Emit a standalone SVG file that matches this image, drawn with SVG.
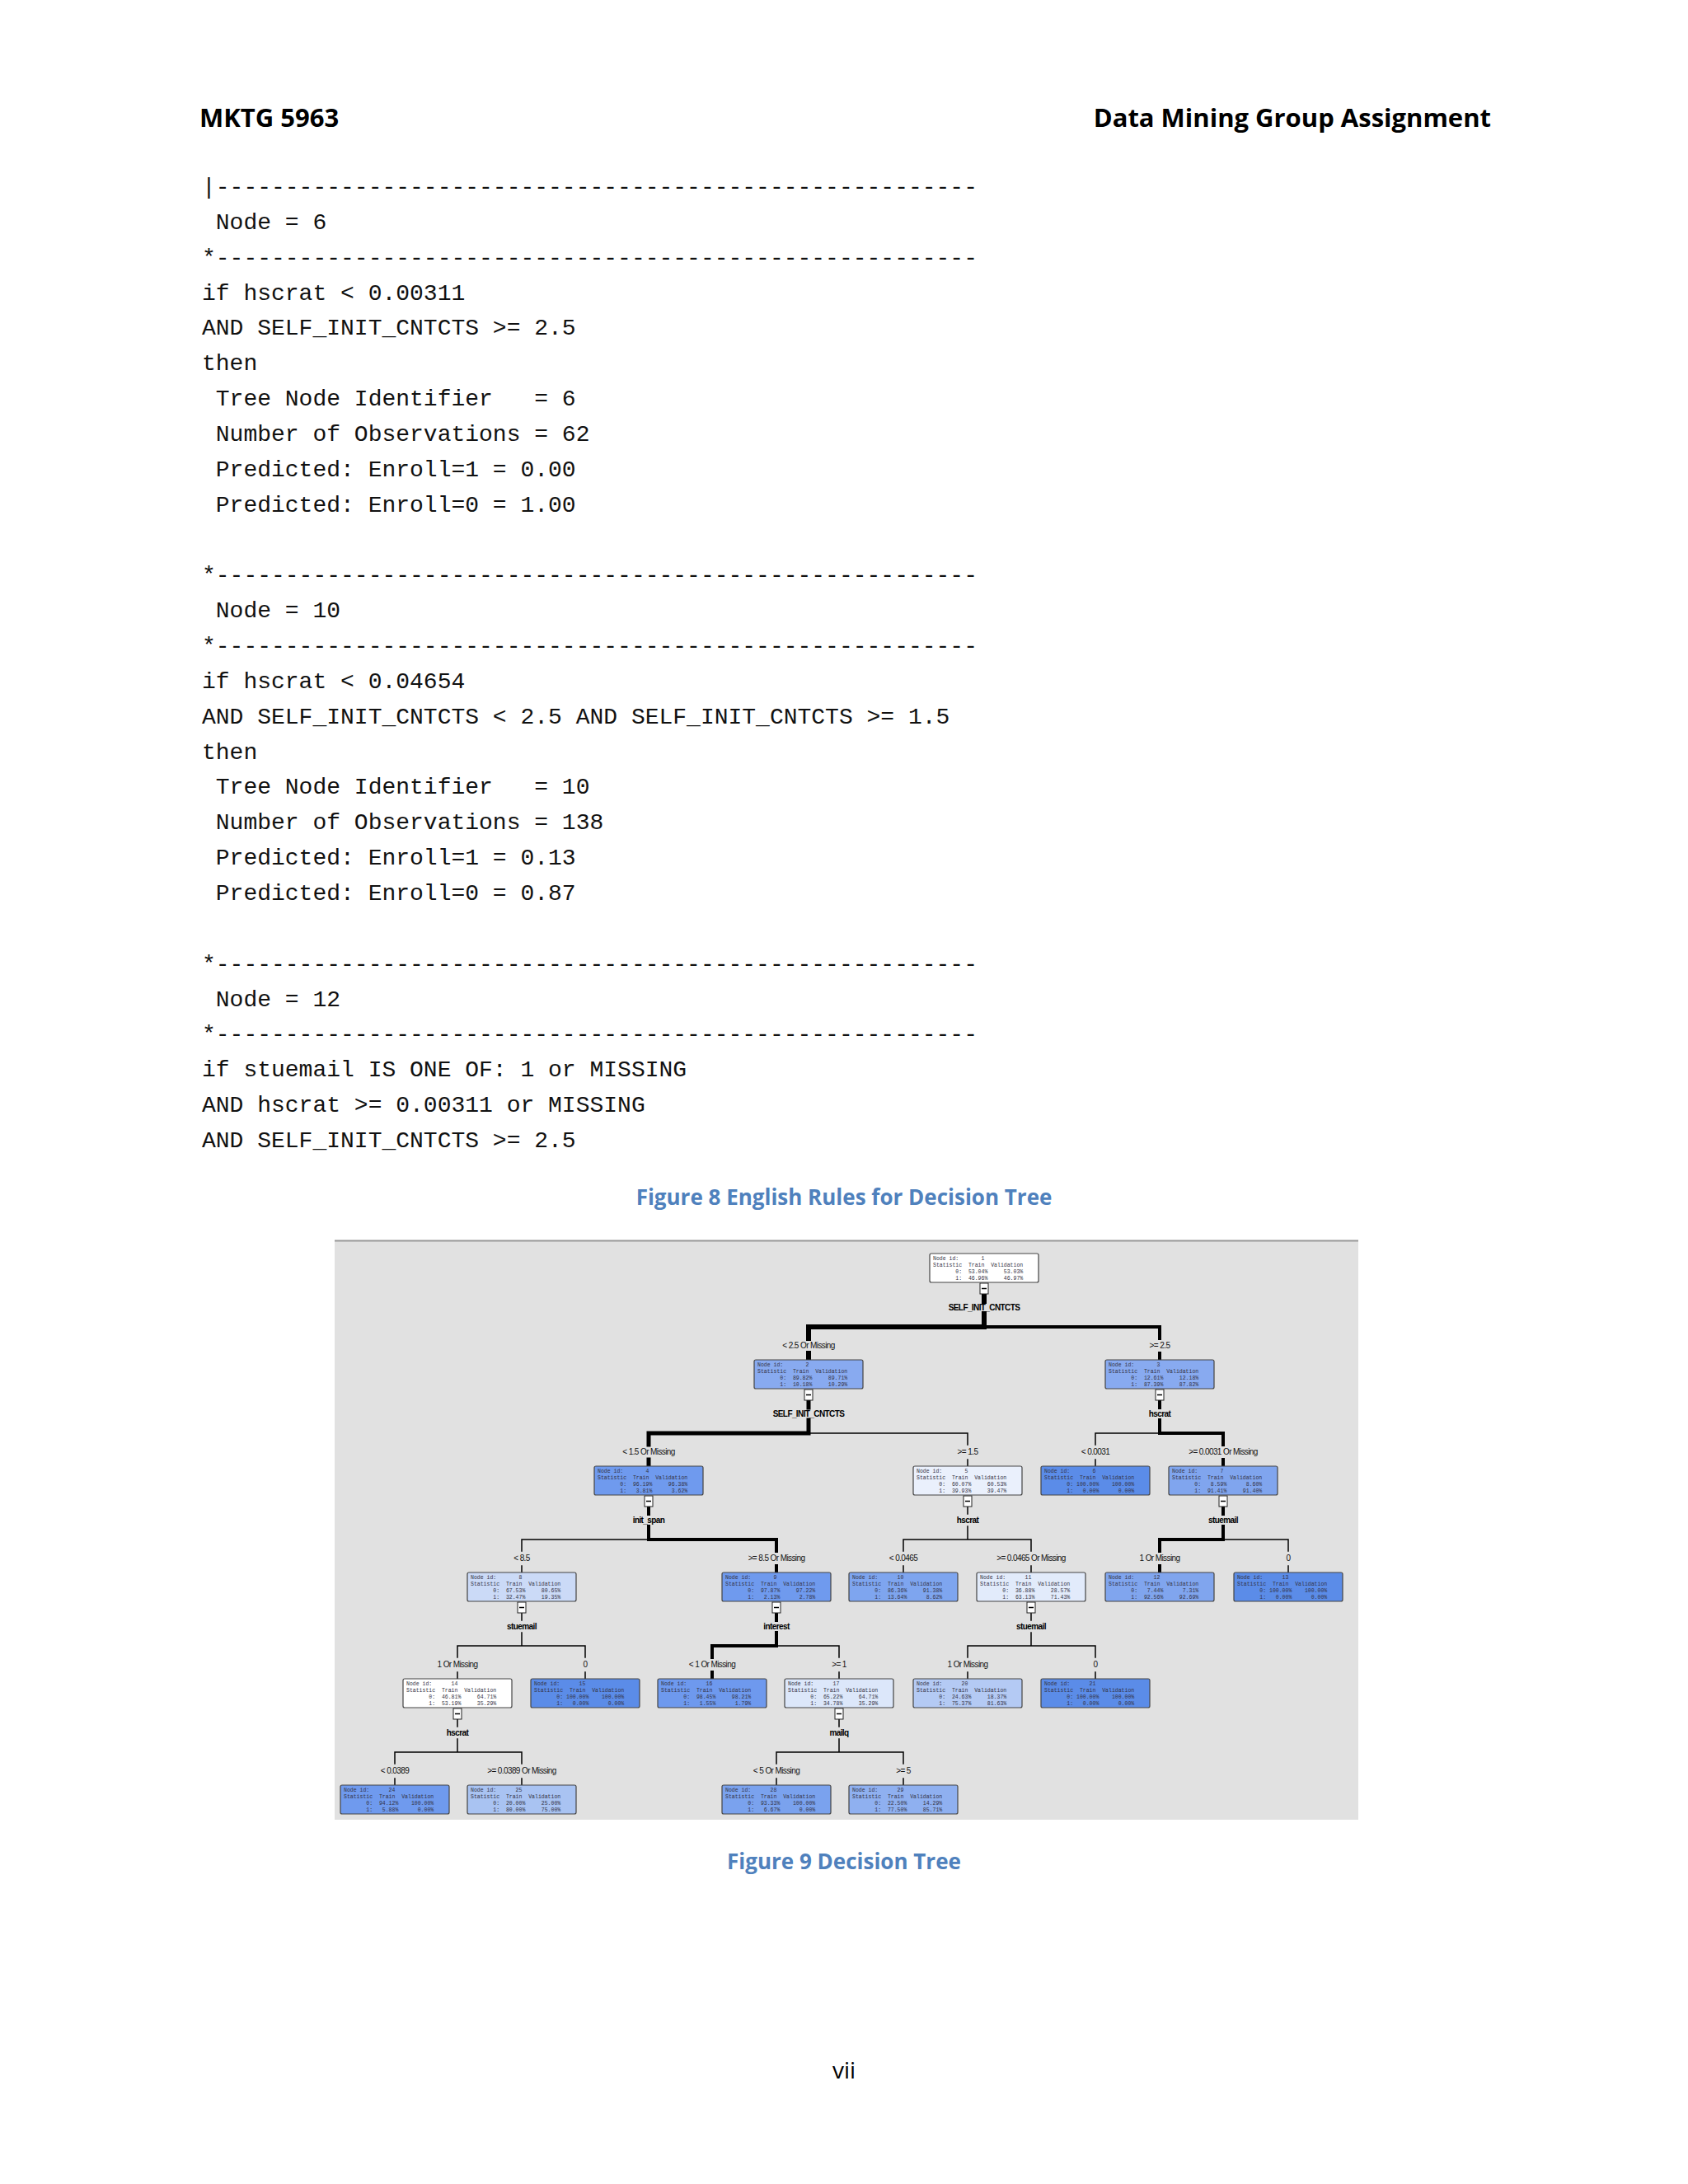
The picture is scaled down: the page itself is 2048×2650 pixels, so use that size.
<svg xmlns="http://www.w3.org/2000/svg" width="2048" height="2650" viewBox="0 0 2048 2650">
<defs>
<clipPath id="rc"><rect x="200" y="190" width="990" height="1230"/></clipPath>
<style>
.h{font-family:"Open Sans","Liberation Sans",sans-serif;font-weight:bold;font-size:31px;fill:#000}
.m{font-family:"Liberation Mono",monospace;font-size:28px;fill:#111;white-space:pre}
.cap{font-family:"Open Sans","Liberation Sans",sans-serif;font-weight:bold;font-size:26px;fill:#4f81bd;text-anchor:middle}
.pg{font-family:"Open Sans","Liberation Sans",sans-serif;font-size:28px;fill:#000;text-anchor:middle}
.nb{stroke:#444;stroke-width:1.2}
.nt{font-family:"Liberation Mono",monospace;font-size:6.5px;fill:#334;white-space:pre}
.lb{font-family:"Liberation Sans",sans-serif;font-size:10px;letter-spacing:-0.6px;fill:#111;text-anchor:middle}
.vr{font-family:"Liberation Sans",sans-serif;font-size:10px;font-weight:bold;letter-spacing:-0.6px;fill:#000;text-anchor:middle}
.e{fill:none;stroke:#000;stroke-linecap:square}
.tg{fill:#fff;stroke:#222;stroke-width:1}
</style>
</defs>
<rect width="2048" height="2650" fill="#fff"/>
<text class="h" x="242" y="154">MKTG 5963</text>
<text class="h" x="1809" y="154" text-anchor="end">Data Mining Group Assignment</text>
<g id="rules" clip-path="url(#rc)">
<text class="m" x="245" y="235">|-------------------------------------------------------</text>
<text class="m" x="245" y="278"> Node = 6</text>
<text class="m" x="245" y="321">*-------------------------------------------------------</text>
<text class="m" x="245" y="364">if hscrat &lt; 0.00311</text>
<text class="m" x="245" y="406">AND SELF_INIT_CNTCTS &gt;= 2.5</text>
<text class="m" x="245" y="449">then</text>
<text class="m" x="245" y="492"> Tree Node Identifier   = 6</text>
<text class="m" x="245" y="535"> Number of Observations = 62</text>
<text class="m" x="245" y="578"> Predicted: Enroll=1 = 0.00</text>
<text class="m" x="245" y="621"> Predicted: Enroll=0 = 1.00</text>
<text class="m" x="245" y="706">*-------------------------------------------------------</text>
<text class="m" x="245" y="749"> Node = 10</text>
<text class="m" x="245" y="792">*-------------------------------------------------------</text>
<text class="m" x="245" y="835">if hscrat &lt; 0.04654</text>
<text class="m" x="245" y="878">AND SELF_INIT_CNTCTS &lt; 2.5 AND SELF_INIT_CNTCTS &gt;= 1.5</text>
<text class="m" x="245" y="921">then</text>
<text class="m" x="245" y="963"> Tree Node Identifier   = 10</text>
<text class="m" x="245" y="1006"> Number of Observations = 138</text>
<text class="m" x="245" y="1049"> Predicted: Enroll=1 = 0.13</text>
<text class="m" x="245" y="1092"> Predicted: Enroll=0 = 0.87</text>
<text class="m" x="245" y="1178">*-------------------------------------------------------</text>
<text class="m" x="245" y="1221"> Node = 12</text>
<text class="m" x="245" y="1263">*-------------------------------------------------------</text>
<text class="m" x="245" y="1306">if stuemail IS ONE OF: 1 or MISSING</text>
<text class="m" x="245" y="1349">AND hscrat &gt;= 0.00311 or MISSING</text>
<text class="m" x="245" y="1392">AND SELF_INIT_CNTCTS &gt;= 2.5</text>
</g>
<text class="cap" x="1024" y="1462">Figure 8 English Rules for Decision Tree</text>
<rect x="406" y="1505" width="1242" height="703" fill="#e1e1e1"/>
<line x1="406" y1="1505.5" x2="1648" y2="1505.5" stroke="#999" stroke-width="2"/>
<g id="connectors">
<!-- P1 -->
<path class="e" stroke-width="6" d="M1194,1570V1579M1194,1594V1610H981V1624M981,1642V1650"/>
<path class="e" stroke-width="4" d="M1194,1610H1407V1624M1407,1642V1650"/>
<!-- P2 -->
<path class="e" stroke-width="5" d="M981,1699V1708M981,1723V1739H787V1753M787,1771V1779"/>
<path class="e" stroke-width="1.5" d="M981,1739H1174V1753M1174,1771V1779"/>
<!-- P3 -->
<path class="e" stroke-width="4" d="M1407,1699V1708M1407,1723V1739H1484V1753M1484,1771V1779"/>
<path class="e" stroke-width="1.5" d="M1407,1739H1329V1753M1329,1771V1779"/>
<!-- P4 -->
<path class="e" stroke-width="4" d="M787,1828V1837M787,1852V1868H942V1882M942,1900V1908"/>
<path class="e" stroke-width="1.5" d="M787,1868H633V1882M633,1900V1908"/>
<!-- P5 -->
<path class="e" stroke-width="1.5" d="M1174,1828V1837M1174,1852V1868H1096V1882M1096,1900V1908M1174,1868H1251V1882M1251,1900V1908"/>
<!-- P7 -->
<path class="e" stroke-width="4" d="M1484,1828V1837M1484,1852V1868H1407V1882M1407,1900V1908"/>
<path class="e" stroke-width="1.5" d="M1484,1868H1563V1882M1563,1900V1908"/>
<!-- P8 -->
<path class="e" stroke-width="1.5" d="M633,1957V1966M633,1981V1997H555V2011M555,2029V2037M633,1997H710V2011M710,2029V2037"/>
<!-- P9 -->
<path class="e" stroke-width="4" d="M942,1957V1966M942,1981V1997H864V2011M864,2029V2037"/>
<path class="e" stroke-width="1.5" d="M942,1997H1018V2011M1018,2029V2037"/>
<!-- P11 -->
<path class="e" stroke-width="1.5" d="M1251,1957V1966M1251,1981V1997H1174V2011M1174,2029V2037M1251,1997H1329V2011M1329,2029V2037"/>
<!-- P14 -->
<path class="e" stroke-width="1.5" d="M555,2086V2095M555,2110V2126H479V2140M479,2158V2166M555,2126H633V2140M633,2158V2166"/>
<!-- P17 -->
<path class="e" stroke-width="1.5" d="M1018,2086V2095M1018,2110V2126H942V2140M942,2158V2166M1018,2126H1096V2140M1096,2158V2166"/>
<!-- toggles -->
<g>
<rect class="tg" x="1189" y="1557" width="10" height="13"/><line x1="1191" y1="1563.5" x2="1197" y2="1563.5" stroke="#000" stroke-width="1.5"/>
<rect class="tg" x="976" y="1686" width="10" height="13"/><line x1="978" y1="1692.5" x2="984" y2="1692.5" stroke="#000" stroke-width="1.5"/>
<rect class="tg" x="1402" y="1686" width="10" height="13"/><line x1="1404" y1="1692.5" x2="1410" y2="1692.5" stroke="#000" stroke-width="1.5"/>
<rect class="tg" x="782" y="1815" width="10" height="13"/><line x1="784" y1="1821.5" x2="790" y2="1821.5" stroke="#000" stroke-width="1.5"/>
<rect class="tg" x="1169" y="1815" width="10" height="13"/><line x1="1171" y1="1821.5" x2="1177" y2="1821.5" stroke="#000" stroke-width="1.5"/>
<rect class="tg" x="1479" y="1815" width="10" height="13"/><line x1="1481" y1="1821.5" x2="1487" y2="1821.5" stroke="#000" stroke-width="1.5"/>
<rect class="tg" x="628" y="1944" width="10" height="13"/><line x1="630" y1="1950.5" x2="636" y2="1950.5" stroke="#000" stroke-width="1.5"/>
<rect class="tg" x="937" y="1944" width="10" height="13"/><line x1="939" y1="1950.5" x2="945" y2="1950.5" stroke="#000" stroke-width="1.5"/>
<rect class="tg" x="1246" y="1944" width="10" height="13"/><line x1="1248" y1="1950.5" x2="1254" y2="1950.5" stroke="#000" stroke-width="1.5"/>
<rect class="tg" x="550" y="2073" width="10" height="13"/><line x1="552" y1="2079.5" x2="558" y2="2079.5" stroke="#000" stroke-width="1.5"/>
<rect class="tg" x="1013" y="2073" width="10" height="13"/><line x1="1015" y1="2079.5" x2="1021" y2="2079.5" stroke="#000" stroke-width="1.5"/>
</g>
<!-- split variables -->
<text class="vr" x="1194" y="1590">SELF_INIT_CNTCTS</text>
<text class="vr" x="981" y="1719">SELF_INIT_CNTCTS</text>
<text class="vr" x="1407" y="1719">hscrat</text>
<text class="vr" x="787" y="1848">init_span</text>
<text class="vr" x="1174" y="1848">hscrat</text>
<text class="vr" x="1484" y="1848">stuemail</text>
<text class="vr" x="633" y="1977">stuemail</text>
<text class="vr" x="942" y="1977">interest</text>
<text class="vr" x="1251" y="1977">stuemail</text>
<text class="vr" x="555" y="2106">hscrat</text>
<text class="vr" x="1018" y="2106">mailq</text>
<!-- branch labels -->
<text class="lb" x="981" y="1636">&lt; 2.5 Or Missing</text>
<text class="lb" x="1407" y="1636">&gt;= 2.5</text>
<text class="lb" x="787" y="1765">&lt; 1.5 Or Missing</text>
<text class="lb" x="1174" y="1765">&gt;= 1.5</text>
<text class="lb" x="1329" y="1765">&lt; 0.0031</text>
<text class="lb" x="1484" y="1765">&gt;= 0.0031 Or Missing</text>
<text class="lb" x="633" y="1894">&lt; 8.5</text>
<text class="lb" x="942" y="1894">&gt;= 8.5 Or Missing</text>
<text class="lb" x="1096" y="1894">&lt; 0.0465</text>
<text class="lb" x="1251" y="1894">&gt;= 0.0465 Or Missing</text>
<text class="lb" x="1407" y="1894">1 Or Missing</text>
<text class="lb" x="1563" y="1894">0</text>
<text class="lb" x="555" y="2023">1 Or Missing</text>
<text class="lb" x="710" y="2023">0</text>
<text class="lb" x="864" y="2023">&lt; 1 Or Missing</text>
<text class="lb" x="1018" y="2023">&gt;= 1</text>
<text class="lb" x="1174" y="2023">1 Or Missing</text>
<text class="lb" x="1329" y="2023">0</text>
<text class="lb" x="479" y="2152">&lt; 0.0389</text>
<text class="lb" x="633" y="2152">&gt;= 0.0389 Or Missing</text>
<text class="lb" x="942" y="2152">&lt; 5 Or Missing</text>
<text class="lb" x="1096" y="2152">&gt;= 5</text>
</g>
<g id="n1"><rect class="nb" x="1128" y="1521" width="132" height="35" rx="2" fill="#ffffff"/><text class="nt" x="1132" y="1529">Node id:       1</text><text class="nt" x="1132" y="1537">Statistic  Train  Validation</text><text class="nt" x="1132" y="1545">       0:  53.04%     53.03%</text><text class="nt" x="1132" y="1553">       1:  46.96%     46.97%</text></g>
<g id="n2"><rect class="nb" x="915" y="1650" width="132" height="35" rx="2" fill="#88aaf0"/><text class="nt" x="919" y="1658">Node id:       2</text><text class="nt" x="919" y="1666">Statistic  Train  Validation</text><text class="nt" x="919" y="1674">       0:  89.82%     89.71%</text><text class="nt" x="919" y="1682">       1:  10.18%     10.29%</text></g>
<g id="n3"><rect class="nb" x="1341" y="1650" width="132" height="35" rx="2" fill="#88aaf0"/><text class="nt" x="1345" y="1658">Node id:       3</text><text class="nt" x="1345" y="1666">Statistic  Train  Validation</text><text class="nt" x="1345" y="1674">       0:  12.61%     12.18%</text><text class="nt" x="1345" y="1682">       1:  87.39%     87.82%</text></g>
<g id="n4"><rect class="nb" x="721" y="1779" width="132" height="35" rx="2" fill="#6f9aee"/><text class="nt" x="725" y="1787">Node id:       4</text><text class="nt" x="725" y="1795">Statistic  Train  Validation</text><text class="nt" x="725" y="1803">       0:  96.19%     96.38%</text><text class="nt" x="725" y="1811">       1:   3.81%      3.62%</text></g>
<g id="n5"><rect class="nb" x="1108" y="1779" width="132" height="35" rx="2" fill="#eaf0fc"/><text class="nt" x="1112" y="1787">Node id:       5</text><text class="nt" x="1112" y="1795">Statistic  Train  Validation</text><text class="nt" x="1112" y="1803">       0:  60.07%     60.53%</text><text class="nt" x="1112" y="1811">       1:  39.93%     39.47%</text></g>
<g id="n6"><rect class="nb" x="1263" y="1779" width="132" height="35" rx="2" fill="#5b8ce8"/><text class="nt" x="1267" y="1787">Node id:       6</text><text class="nt" x="1267" y="1795">Statistic  Train  Validation</text><text class="nt" x="1267" y="1803">       0: 100.00%    100.00%</text><text class="nt" x="1267" y="1811">       1:   0.00%      0.00%</text></g>
<g id="n7"><rect class="nb" x="1418" y="1779" width="132" height="35" rx="2" fill="#80a5ee"/><text class="nt" x="1422" y="1787">Node id:       7</text><text class="nt" x="1422" y="1795">Statistic  Train  Validation</text><text class="nt" x="1422" y="1803">       0:   8.59%      8.60%</text><text class="nt" x="1422" y="1811">       1:  91.41%     91.40%</text></g>
<g id="n8"><rect class="nb" x="567" y="1908" width="132" height="35" rx="2" fill="#cbdaf7"/><text class="nt" x="571" y="1916">Node id:       8</text><text class="nt" x="571" y="1924">Statistic  Train  Validation</text><text class="nt" x="571" y="1932">       0:  67.53%     80.65%</text><text class="nt" x="571" y="1940">       1:  32.47%     19.35%</text></g>
<g id="n9"><rect class="nb" x="876" y="1908" width="132" height="35" rx="2" fill="#6f9aee"/><text class="nt" x="880" y="1916">Node id:       9</text><text class="nt" x="880" y="1924">Statistic  Train  Validation</text><text class="nt" x="880" y="1932">       0:  97.87%     97.22%</text><text class="nt" x="880" y="1940">       1:   2.13%      2.78%</text></g>
<g id="n10"><rect class="nb" x="1030" y="1908" width="132" height="35" rx="2" fill="#7ea5ef"/><text class="nt" x="1034" y="1916">Node id:      10</text><text class="nt" x="1034" y="1924">Statistic  Train  Validation</text><text class="nt" x="1034" y="1932">       0:  86.36%     91.38%</text><text class="nt" x="1034" y="1940">       1:  13.64%      8.62%</text></g>
<g id="n11"><rect class="nb" x="1185" y="1908" width="132" height="35" rx="2" fill="#e2ebfb"/><text class="nt" x="1189" y="1916">Node id:      11</text><text class="nt" x="1189" y="1924">Statistic  Train  Validation</text><text class="nt" x="1189" y="1932">       0:  36.88%     28.57%</text><text class="nt" x="1189" y="1940">       1:  63.13%     71.43%</text></g>
<g id="n12"><rect class="nb" x="1341" y="1908" width="132" height="35" rx="2" fill="#80a5ee"/><text class="nt" x="1345" y="1916">Node id:      12</text><text class="nt" x="1345" y="1924">Statistic  Train  Validation</text><text class="nt" x="1345" y="1932">       0:   7.44%      7.31%</text><text class="nt" x="1345" y="1940">       1:  92.56%     92.69%</text></g>
<g id="n13"><rect class="nb" x="1497" y="1908" width="132" height="35" rx="2" fill="#5b8ce8"/><text class="nt" x="1501" y="1916">Node id:      13</text><text class="nt" x="1501" y="1924">Statistic  Train  Validation</text><text class="nt" x="1501" y="1932">       0: 100.00%    100.00%</text><text class="nt" x="1501" y="1940">       1:   0.00%      0.00%</text></g>
<g id="n14"><rect class="nb" x="489" y="2037" width="132" height="35" rx="2" fill="#ffffff"/><text class="nt" x="493" y="2045">Node id:      14</text><text class="nt" x="493" y="2053">Statistic  Train  Validation</text><text class="nt" x="493" y="2061">       0:  46.81%     64.71%</text><text class="nt" x="493" y="2069">       1:  53.19%     35.29%</text></g>
<g id="n15"><rect class="nb" x="644" y="2037" width="132" height="35" rx="2" fill="#5b8ce8"/><text class="nt" x="648" y="2045">Node id:      15</text><text class="nt" x="648" y="2053">Statistic  Train  Validation</text><text class="nt" x="648" y="2061">       0: 100.00%    100.00%</text><text class="nt" x="648" y="2069">       1:   0.00%      0.00%</text></g>
<g id="n16"><rect class="nb" x="798" y="2037" width="132" height="35" rx="2" fill="#6e99ee"/><text class="nt" x="802" y="2045">Node id:      16</text><text class="nt" x="802" y="2053">Statistic  Train  Validation</text><text class="nt" x="802" y="2061">       0:  98.45%     98.21%</text><text class="nt" x="802" y="2069">       1:   1.55%      1.79%</text></g>
<g id="n17"><rect class="nb" x="952" y="2037" width="132" height="35" rx="2" fill="#dce7fa"/><text class="nt" x="956" y="2045">Node id:      17</text><text class="nt" x="956" y="2053">Statistic  Train  Validation</text><text class="nt" x="956" y="2061">       0:  65.22%     64.71%</text><text class="nt" x="956" y="2069">       1:  34.78%     35.29%</text></g>
<g id="n20"><rect class="nb" x="1108" y="2037" width="132" height="35" rx="2" fill="#b4caf4"/><text class="nt" x="1112" y="2045">Node id:      20</text><text class="nt" x="1112" y="2053">Statistic  Train  Validation</text><text class="nt" x="1112" y="2061">       0:  24.63%     18.37%</text><text class="nt" x="1112" y="2069">       1:  75.37%     81.63%</text></g>
<g id="n21"><rect class="nb" x="1263" y="2037" width="132" height="35" rx="2" fill="#5b8ce8"/><text class="nt" x="1267" y="2045">Node id:      21</text><text class="nt" x="1267" y="2053">Statistic  Train  Validation</text><text class="nt" x="1267" y="2061">       0: 100.00%    100.00%</text><text class="nt" x="1267" y="2069">       1:   0.00%      0.00%</text></g>
<g id="n24"><rect class="nb" x="413" y="2166" width="132" height="35" rx="2" fill="#6f9aee"/><text class="nt" x="417" y="2174">Node id:      24</text><text class="nt" x="417" y="2182">Statistic  Train  Validation</text><text class="nt" x="417" y="2190">       0:  94.12%    100.00%</text><text class="nt" x="417" y="2198">       1:   5.88%      0.00%</text></g>
<g id="n25"><rect class="nb" x="567" y="2166" width="132" height="35" rx="2" fill="#a9c3f2"/><text class="nt" x="571" y="2174">Node id:      25</text><text class="nt" x="571" y="2182">Statistic  Train  Validation</text><text class="nt" x="571" y="2190">       0:  20.00%     25.00%</text><text class="nt" x="571" y="2198">       1:  80.00%     75.00%</text></g>
<g id="n28"><rect class="nb" x="876" y="2166" width="132" height="35" rx="2" fill="#7aa2ee"/><text class="nt" x="880" y="2174">Node id:      28</text><text class="nt" x="880" y="2182">Statistic  Train  Validation</text><text class="nt" x="880" y="2190">       0:  93.33%    100.00%</text><text class="nt" x="880" y="2198">       1:   6.67%      0.00%</text></g>
<g id="n29"><rect class="nb" x="1030" y="2166" width="132" height="35" rx="2" fill="#8fb0f0"/><text class="nt" x="1034" y="2174">Node id:      29</text><text class="nt" x="1034" y="2182">Statistic  Train  Validation</text><text class="nt" x="1034" y="2190">       0:  22.50%     14.29%</text><text class="nt" x="1034" y="2198">       1:  77.50%     85.71%</text></g>
<text class="cap" x="1024" y="2268">Figure 9 Decision Tree</text>
<text class="pg" x="1024" y="2522">vii</text>
</svg>
